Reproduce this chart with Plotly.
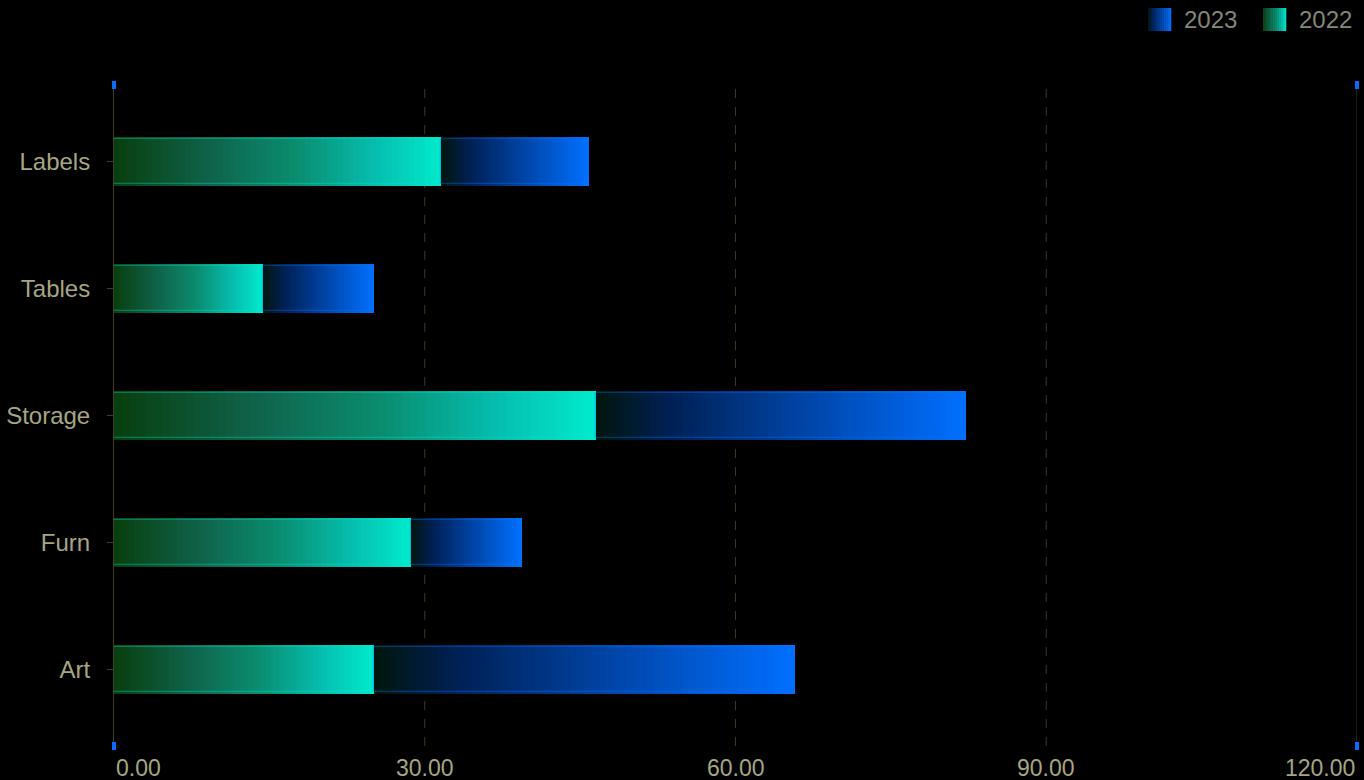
import plotly.graph_objects as go

# ---- data ----
categories = ["Art", "Furn", "Storage", "Tables", "Labels"]
values_2022 = [25.1, 28.7, 46.5, 14.4, 31.6]
values_2023 = [40.6, 10.7, 35.7, 10.7, 14.2]
x_tick_vals = [0, 30, 60, 90, 120]
x_tick_text = ["0.00", "30.00", "60.00", "90.00", "120.00"]
series_names = ["2023", "2022"]

# ---- style ----
FONT = "Liberation Sans"
TICK_COLOR = "#a6a682"
LEGEND_COLOR = "#85857a"
GRID_COLOR = "#3a3a1e"
AXIS_COLOR = "#3f3f1c"
N_SEG = 60
BAR_W = 0.385

grad_2022 = [(0.0, (8, 62, 14)), (0.3, (15, 100, 75)), (0.55, (10, 140, 110)),
             (0.8, (5, 190, 175)), (1.0, (0, 235, 205))]
grad_2023 = [(0.0, (0, 22, 12)), (0.2, (0, 32, 85)), (0.6, (0, 72, 175)),
             (1.0, (0, 112, 255))]


def interp(stops, t):
    for (t0, c0), (t1, c1) in zip(stops[:-1], stops[1:]):
        if t <= t1:
            f = (t - t0) / (t1 - t0) if t1 > t0 else 0
            return "rgb(%d,%d,%d)" % tuple(round(a + (b - a) * f) for a, b in zip(c0, c1))
    return "rgb(%d,%d,%d)" % stops[-1][1]


fig = go.Figure()


def add_gradient_bars(vals, bases, stops, edge):
    for i in range(N_SEG):
        t = (i + 0.5) / N_SEG
        fig.add_trace(go.Bar(
            orientation="h", y=categories,
            x=[v / N_SEG * 1.04 for v in vals],
            base=[b + v * i / N_SEG for v, b in zip(vals, bases)],
            width=BAR_W, marker=dict(color=interp(stops, t), line=dict(width=0)),
            showlegend=False, hoverinfo="skip"))
    fig.add_trace(go.Bar(
        orientation="h", y=categories, x=vals, base=bases, width=BAR_W * 0.93,
        marker=dict(color="rgba(0,0,0,0)", line=dict(width=1.2, color=edge)),
        showlegend=False, hoverinfo="skip"))


add_gradient_bars(values_2022, [0] * len(values_2022), grad_2022, "rgba(0,230,210,0.35)")
add_gradient_bars(values_2023, values_2022, grad_2023, "rgba(0,120,255,0.35)")

# plot-area pixel geometry
L, R, T, B = 114, 1357, 85, 746
W, H = R - L, B - T


def px(x):
    return (x - L) / W


def py(y):
    return (B - y) / H


shapes = []
# gridlines
for v in x_tick_vals[1:-1]:
    shapes.append(dict(type="line", xref="x", yref="paper", x0=v, x1=v, y0=0, y1=1,
                       line=dict(color=GRID_COLOR, width=1, dash="dash"), layer="below"))
shapes.append(dict(type="line", xref="x", yref="paper", x0=x_tick_vals[-1], x1=x_tick_vals[-1],
                   y0=0, y1=1, line=dict(color=GRID_COLOR, width=1), layer="below"))
# blue end markers
for xv in (0, 1):
    for yv in (0, 1):
        shapes.append(dict(type="rect", xref="paper", yref="paper", xsizemode="pixel", ysizemode="pixel",
                           xanchor=xv, yanchor=yv, x0=-2, x1=2, y0=-4, y1=4,
                           fillcolor="#0a6cff", line=dict(width=0)))

# legend swatches
def swatch(x0p, x1p, stops):
    n = 12
    for i in range(n):
        a = x0p + (x1p - x0p) * i / n
        b = x0p + (x1p - x0p) * (i + 1) / n + 0.3
        shapes.append(dict(type="rect", xref="paper", yref="paper",
                           x0=px(a), x1=px(b), y0=py(31), y1=py(8),
                           fillcolor=interp(stops, (i + 0.5) / n), line=dict(width=0)))


swatch(1148, 1171, grad_2023)
swatch(1263, 1286, grad_2022)

annotations = [
    dict(text=series_names[0], xref="paper", yref="paper", x=px(1182), y=py(20), xanchor="left",
         yanchor="middle", showarrow=False, font=dict(family=FONT, size=24, color=LEGEND_COLOR)),
    dict(text=series_names[1], xref="paper", yref="paper", x=px(1297), y=py(20), xanchor="left",
         yanchor="middle", showarrow=False, font=dict(family=FONT, size=24, color=LEGEND_COLOR)),
]
for i, (v, t) in enumerate(zip(x_tick_vals, x_tick_text)):
    anchor = "left" if i == 0 else ("right" if i == len(x_tick_vals) - 1 else "center")
    annotations.append(dict(text=t, xref="x", yref="paper", x=v, y=py(768), xanchor=anchor,
                            yanchor="middle", showarrow=False,
                            font=dict(family=FONT, size=23, color=TICK_COLOR)))

fig.update_layout(
    width=1364, height=780,
    paper_bgcolor="#000000", plot_bgcolor="#000000",
    barmode="overlay", bargap=0,
    margin=dict(l=L, r=1364 - R, t=T, b=780 - B, pad=0),
    showlegend=False,
    shapes=shapes, annotations=annotations,
    xaxis=dict(range=[x_tick_vals[0], x_tick_vals[-1]], showgrid=False, zeroline=False,
               showticklabels=False, showline=False, fixedrange=True),
    yaxis=dict(type="category", categoryorder="array", categoryarray=categories,
               range=[-0.6, len(categories) - 0.4], showgrid=False, zeroline=False,
               showline=True, linecolor=AXIS_COLOR, linewidth=1,
               ticks="outside", ticklen=6, tickcolor=AXIS_COLOR,
               tickfont=dict(family=FONT, size=24, color=TICK_COLOR), ticklabelstandoff=12),
)

fig.write_html("out.html", config={"displayModeBar": False},
               post_script="document.body.style.margin='0';document.body.style.background='#000';")
